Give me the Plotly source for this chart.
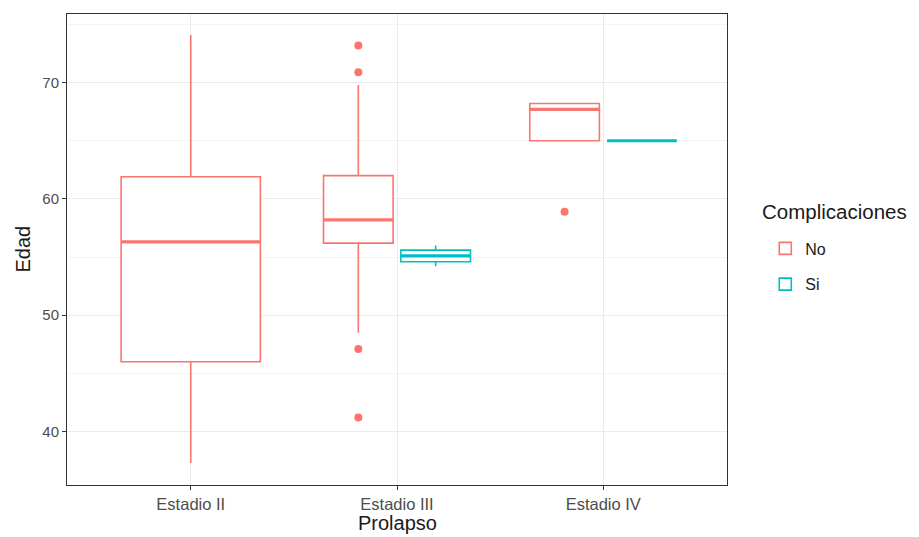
import plotly.graph_objects as go

# ---- data ----
categories = ["Estadio II", "Estadio III", "Estadio IV"]

no_cats = ["Estadio II", "Estadio III", "Estadio IV"]
no_lower = [37.3, 48.5, 65.0]
no_q1 = [46.0, 56.2, 65.0]
no_median = [56.3, 58.2, 67.7]
no_q3 = [61.9, 62.0, 68.2]
no_upper = [74.1, 69.8, 68.2]
no_outliers = [[], [73.2, 70.9, 47.1, 41.2], [58.9]]

si_cats = ["Estadio III", "Estadio IV"]
si_lower = [54.2, 65.0]
si_q1 = [54.6, 65.0]
si_median = [55.1, 65.0]
si_q3 = [55.6, 65.0]
si_upper = [56.0, 65.0]
si_outliers = [[], []]

groups = ["No", "Si"]
colors = {"No": "#F8766D", "Si": "#00BFC4"}

x_title = "Prolapso"
y_title = "Edad"
legend_title = "Complicaciones"

series = {
    "No": dict(cats=no_cats, lower=no_lower, q1=no_q1, med=no_median, q3=no_q3, upper=no_upper, out=no_outliers),
    "Si": dict(cats=si_cats, lower=si_lower, q1=si_q1, med=si_median, q3=si_q3, upper=si_upper, out=si_outliers),
}

# ggplot-like dodge2: total width 0.75, padding 0.1
TOTAL_W = 0.75
PAD = 0.1


def position(group, cat):
    present = [g for g in groups if cat in series[g]["cats"]]
    n = len(present)
    i = present.index(group)
    slot = TOTAL_W / n
    center = categories.index(cat) - TOTAL_W / 2 + (i + 0.5) * slot
    return center, slot * (1 - PAD)


fig = go.Figure()
medians = []
outs = []
for g in groups:
    s = series[g]
    first = True
    for k, cat in enumerate(s["cats"]):
        xc, w = position(g, cat)
        fig.add_trace(go.Box(
            x=[xc], q1=[s["q1"][k]], median=[s["med"][k]], q3=[s["q3"][k]],
            lowerfence=[s["lower"][k]], upperfence=[s["upper"][k]],
            width=w, whiskerwidth=0, boxpoints=False,
            fillcolor="white", line=dict(color=colors[g], width=1.6),
            name=g, legendgroup=g, showlegend=first, hoverinfo="skip",
        ))
        first = False
        medians.append((g, xc, w, s["med"][k]))
        if s["out"][k]:
            outs.append((g, xc, s["out"][k]))

for g, xc, w, m in medians:
    fig.add_trace(go.Scatter(
        x=[xc - w / 2, xc + w / 2], y=[m, m], mode="lines",
        line=dict(color=colors[g], width=3.2), showlegend=False, hoverinfo="skip",
    ))
for g, xc, vals in outs:
    fig.add_trace(go.Scatter(
        x=[xc] * len(vals), y=vals, mode="markers",
        marker=dict(color=colors[g], size=8), showlegend=False, hoverinfo="skip",
    ))

FONT = "Liberation Sans, Arial, sans-serif"
TITLE_COLOR = "#1A1A1A"
fig.update_layout(
    width=903, height=529,
    margin=dict(l=59, r=184, t=6, b=52),
    paper_bgcolor="white", plot_bgcolor="white",
    font=dict(family=FONT, color="#000000"),
    showlegend=True,
    legend=dict(
        font=dict(size=16, color=TITLE_COLOR),
        x=1.058, xanchor="left", y=0.464, yanchor="middle",
        tracegroupgap=12, bgcolor="rgba(0,0,0,0)",
    ),
    xaxis=dict(
        range=[-0.6, 2.6], tickmode="array", tickvals=[0, 1, 2], ticktext=categories,
        showgrid=True, gridcolor="#EBEBEB", gridwidth=1, zeroline=False,
        showline=True, mirror=True, linecolor="#333333", linewidth=1,
        ticks="outside", ticklen=4, tickcolor="#333333",
        tickfont=dict(size=16.5, color="#4D4D4D"),
        automargin=False,
    ),
    yaxis=dict(
        range=[35.4, 75.9], tickmode="linear", tick0=40, dtick=10,
        showgrid=True, gridcolor="#EBEBEB", gridwidth=1, zeroline=False,
        minor=dict(tickmode="linear", tick0=35, dtick=5, showgrid=True, gridcolor="#F4F4F4", gridwidth=0.7),
        showline=True, mirror=True, linecolor="#333333", linewidth=1,
        ticks="outside", ticklen=4, tickcolor="#333333",
        tickfont=dict(size=15, color="#4D4D4D"),
        automargin=False,
    ),
    annotations=[
        dict(text=x_title, xref="paper", yref="paper", x=0.5, y=0, xanchor="center", yanchor="middle",
             yshift=-38, showarrow=False, font=dict(size=20, color=TITLE_COLOR)),
        dict(text=y_title, xref="paper", yref="paper", x=0, y=0.5, xanchor="center", yanchor="middle",
             xshift=-45, textangle=-90, showarrow=False, font=dict(size=20, color=TITLE_COLOR)),
        dict(text=legend_title, xref="paper", yref="paper", x=1.05, y=0.5805, xanchor="left", yanchor="middle",
             showarrow=False, font=dict(size=20.5, color=TITLE_COLOR)),
    ],
)

fig.write_html("out.html")
